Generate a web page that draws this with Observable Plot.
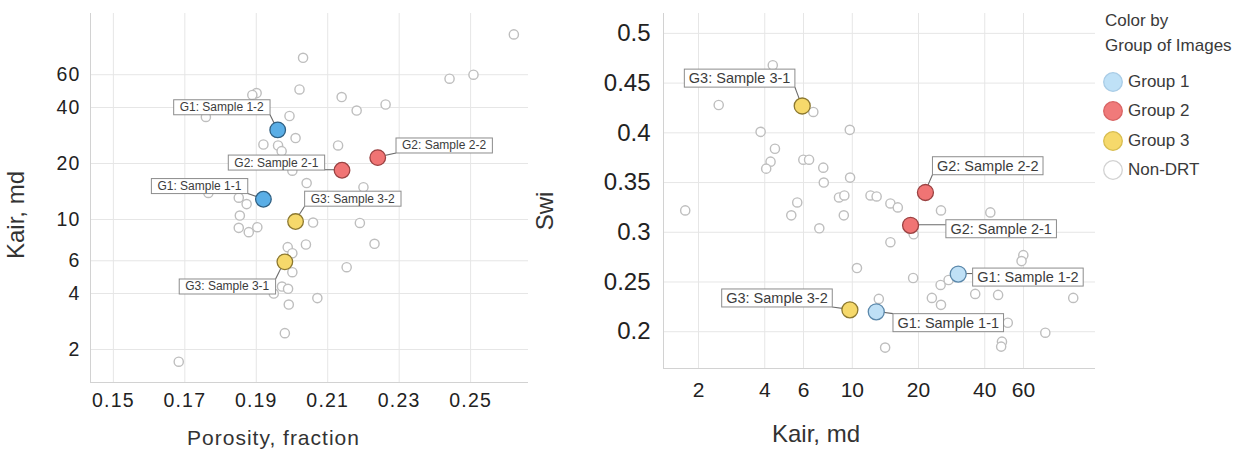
<!DOCTYPE html>
<html>
<head>
<meta charset="utf-8">
<script src="https://cdn.jsdelivr.net/npm/d3@7"></script>
<script src="https://cdn.jsdelivr.net/npm/@observablehq/plot@0.6"></script>
<style>
  html, body { margin: 0; padding: 0; background: #fff; }
  #root { position: relative; width: 1252px; height: 453px; overflow: hidden;
          font-family: "Liberation Sans", Arial, sans-serif; }
  .panel { position: absolute; top: 0; }
  .panel svg { display: block; }
  .title { position: absolute; color: #333; white-space: nowrap; line-height: 1; }
  #left g[aria-description="tick-labels"] text { letter-spacing: 1.2px; }
  .legend { position: absolute; left: 1105px; top: 8px; color: #3a3a3a; font-size: 17px; }
  .legend .head { line-height: 25px; white-space: nowrap; }
  .legend .item { position: absolute; left: 0; white-space: nowrap; height: 22px; line-height: 22px; }
  .legend .item svg { position: absolute; left: -2px; top: 0; }
  .legend .item span { position: absolute; left: 23px; top: 0; }
</style>
</head>
<body>
<div id="root"></div>
<script>
// ---------------- data ----------------
const samples       = ["G1: Sample 1-1", "G1: Sample 1-2", "G2: Sample 2-1", "G2: Sample 2-2", "G3: Sample 3-1", "G3: Sample 3-2"];
const sampleGroup   = ["Group 1", "Group 1", "Group 2", "Group 2", "Group 3", "Group 3"];
const samplePorosity = [0.192, 0.196, 0.214, 0.224, 0.198, 0.201];
const sampleKair    = [12.85, 30.3, 18.4, 21.5, 5.92, 9.75];
const sampleSwi     = [0.220, 0.258, 0.307, 0.340, 0.427, 0.222];

// Non-DRT samples, porosity vs Kair (left chart)
const nonDrtPorosity = [0.2031, 0.1901, 0.1889, 0.2021, 0.2139, 0.2181, 0.2262, 0.1759, 0.1993, 0.2010,
                        0.1920, 0.1961, 0.1971, 0.2129, 0.2001, 0.2041, 0.2200, 0.1766, 0.1851, 0.1873,
                        0.1854, 0.1851, 0.1879, 0.1903, 0.2059, 0.2190, 0.1988, 0.2001, 0.2039, 0.2231,
                        0.2001, 0.2153, 0.1972, 0.1989, 0.1949, 0.2071, 0.1991, 0.1980, 0.1683, 0.2621,
                        0.2441, 0.2508];
const nonDrtKairA    = [74.0, 47.8, 46.7, 50.0, 45.5, 38.5, 41.5, 35.6, 36.0, 27.4,
                        25.3, 25.0, 23.3, 25.0, 18.3, 15.7, 14.9, 13.9, 13.1, 12.1,
                        10.5, 9.02, 8.55, 9.09, 9.63, 9.58, 7.10, 6.59, 7.34, 7.40,
                        5.21, 5.54, 4.36, 4.24, 4.00, 3.78, 3.49, 2.45, 1.72, 98.8,
                        57.1, 60.0];

// Non-DRT samples, Kair vs Swi (right chart)
const nonDrtKairB = [4.35, 2.47, 6.65, 3.83, 9.74, 4.45, 4.25, 4.06, 5.99, 6.36,
                     7.38, 7.42, 9.77, 8.70, 9.20, 12.1, 12.9, 14.9, 16.1, 5.62,
                     5.28, 9.15, 7.08, 14.9, 1.74, 10.5, 13.2, 14.1, 25.3, 42.4,
                     19.0, 18.9, 25.2, 27.4, 59.9, 58.8, 36.2, 46.0, 101, 23.0,
                     25.3, 50.9, 75.4, 47.9, 47.5];
const nonDrtSwi   = [0.468, 0.428, 0.421, 0.401, 0.403, 0.384, 0.371, 0.364, 0.373, 0.373,
                     0.365, 0.350, 0.355, 0.335, 0.337, 0.337, 0.336, 0.329, 0.325, 0.330,
                     0.317, 0.317, 0.304, 0.290, 0.322, 0.264, 0.233, 0.184, 0.322, 0.320,
                     0.298, 0.254, 0.247, 0.252, 0.277, 0.271, 0.238, 0.237, 0.234, 0.234,
                     0.227, 0.209, 0.199, 0.190, 0.185];

// tick labels
const porosityTicks = [0.15, 0.17, 0.19, 0.21, 0.23, 0.25];
const kairTicks     = [2, 4, 6, 10, 20, 40, 60];
const swiTicks      = [0.2, 0.25, 0.3, 0.35, 0.4, 0.45, 0.5];

// legend
const legendTitle  = ["Color by", "Group of Images"];
const legendGroups = ["Group 1", "Group 2", "Group 3", "Non-DRT"];

// ---------------- styles / layout ----------------
const drtGroups = ["Group 1", "Group 2", "Group 3"];
const leftColors = {
  "Group 1": {fill: "#5aaee6", stroke: "#2f5f82"},
  "Group 2": {fill: "#f07474", stroke: "#9a4242"},
  "Group 3": {fill: "#f6d96b", stroke: "#8c7830"}
};
const rightColors = {
  "Group 1": {fill: "#bfe0f6", stroke: "#5a87aa"},
  "Group 2": {fill: "#f07474", stroke: "#9a4242"},
  "Group 3": {fill: "#f6d96b", stroke: "#8c7830"}
};
const legendColors = {
  "Group 1": {fill: "#bfe1f7", stroke: "#a9cce6"},
  "Group 2": {fill: "#f07a7a", stroke: "#d86464"},
  "Group 3": {fill: "#f6d96b", stroke: "#d8bd50"},
  "Non-DRT": {fill: "#ffffff", stroke: "#d2d2d2"}
};
// label offsets (pixels from point to label centre), sample order
const leftLabelOffsets  = [[-64, -13], [-56, -22.5], [-65.7, -7.5], [66.3, -12], [-57.6, 24.8], [57.1, -22.7]];
const rightLabelOffsets = [[72, 11.2], [69.7, 3.4], [90.6, 3.8], [62.3, -26.4], [-62.6, -27.5], [-72.9, -11.5]];

const root = document.getElementById("root");
const NS = "http://www.w3.org/2000/svg";

function buildChart(cfg) {
  const holder = document.createElement("div");
  holder.className = "panel";
  holder.id = cfg.id;
  holder.style.left = cfg.left + "px";
  holder.style.width = cfg.width + "px";
  root.appendChild(holder);

  const gray = cfg.grayX.map((x, i) => ({x, y: cfg.grayY[i]}));
  const pts = samples.map((name, i) => ({name, group: sampleGroup[i], x: cfg.sampleX[i], y: cfg.sampleY[i], i}));

  const plot = Plot.plot({
    width: cfg.width,
    height: 453,
    marginLeft: cfg.margins[0], marginRight: cfg.margins[1], marginTop: cfg.margins[2], marginBottom: cfg.margins[3],
    style: {fontFamily: '"Liberation Sans", Arial, sans-serif', color: "#222", background: "#fff", overflow: "visible"},
    x: {type: cfg.xType, domain: cfg.xDomain, axis: null},
    y: {type: cfg.yType, domain: cfg.yDomain, axis: null},
    marks: [
      Plot.ruleX(cfg.xTicks, {stroke: "#e6e6e6"}),
      Plot.ruleY(cfg.yTicks, {stroke: "#e6e6e6"}),
      Plot.ruleX([cfg.xDomain[0]], {stroke: "#d2d2d2"}),
      Plot.ruleY([cfg.yDomain[0]], {stroke: "#d2d2d2"}),
      // tick labels
      Plot.text(cfg.xTicks, {x: d => d, text: d => String(d), frameAnchor: "bottom", lineAnchor: "top",
        dy: cfg.xPad, fontSize: cfg.xTickSize, fill: "#222", ariaDescription: "tick-labels"}),
      Plot.text(cfg.yTicks, {y: d => d, text: d => String(d), frameAnchor: "left", textAnchor: "end",
        dx: -cfg.yPad, fontSize: cfg.yTickSize, fill: "#222", ariaDescription: "tick-labels"}),
      Plot.dot(gray, {x: "x", y: "y", r: 4.6, fill: "#fff", stroke: "#bebebe", strokeWidth: 1.4}),
      ...pts.map(p => Plot.text([p], {
        x: "x", y: "y", text: "name",
        dx: cfg.offsets[p.i][0], dy: cfg.offsets[p.i][1],
        fontSize: cfg.labelSize, fill: "#3c3c3c", ariaDescription: "sample-label"
      })),
      ...drtGroups.map(g => Plot.dot(pts.filter(p => p.group === g), {
        x: "x", y: "y", r: cfg.dotR, fill: cfg.colors[g].fill, stroke: cfg.colors[g].stroke, strokeWidth: 1.3
      }))
    ]
  });
  holder.appendChild(plot);

  // label boxes and leader lines
  const svgRect = plot.getBoundingClientRect();
  const sx = plot.scale("x"), sy = plot.scale("y");
  const labelGs = Array.from(plot.querySelectorAll('g[aria-description="sample-label"]'));
  if (!labelGs.length) return;
  const parent = labelGs[0].parentNode;
  const lineG = document.createElementNS(NS, "g");
  const boxG = document.createElementNS(NS, "g");
  parent.insertBefore(lineG, labelGs[0]);
  parent.insertBefore(boxG, labelGs[0]);
  labelGs.forEach((g, k) => {
    const t = g.querySelector("text");
    if (!t) return;
    const r = t.getBoundingClientRect();
    const x0 = r.left - svgRect.left - cfg.padX;
    const y0 = r.top - svgRect.top - cfg.padY;
    const w = r.width + 2 * cfg.padX, h = r.height + 2 * cfg.padY;
    const rect = document.createElementNS(NS, "rect");
    rect.setAttribute("x", x0); rect.setAttribute("y", y0);
    rect.setAttribute("width", w); rect.setAttribute("height", h);
    rect.setAttribute("fill", "#fff"); rect.setAttribute("stroke", "#8c8c8c"); rect.setAttribute("stroke-width", 1);
    boxG.appendChild(rect);
    const p = pts[k];
    const cx = sx.apply(p.x), cy = sy.apply(p.y);
    const ax = Math.max(x0, Math.min(cx, x0 + w)), ay = Math.max(y0, Math.min(cy, y0 + h));
    const line = document.createElementNS(NS, "line");
    line.setAttribute("x1", cx); line.setAttribute("y1", cy);
    line.setAttribute("x2", ax); line.setAttribute("y2", ay);
    line.setAttribute("stroke", "#6a6a6a"); line.setAttribute("stroke-width", 1.1);
    lineG.appendChild(line);
  });
}

buildChart({
  id: "left", left: 0, width: 540, margins: [90, 12, 13, 71],
  xType: "linear", xDomain: [0.1436, 0.2662], xTicks: porosityTicks, xPad: 11, xTickSize: 19.5,
  yType: "log", yDomain: [1.33, 128], yTicks: kairTicks, yPad: 10, yTickSize: 19.5,
  grayX: nonDrtPorosity, grayY: nonDrtKairA, sampleX: samplePorosity, sampleY: sampleKair,
  offsets: leftLabelOffsets, colors: leftColors, labelSize: 12, padX: 6, padY: 0.5, dotR: 7.8
});

buildChart({
  id: "right", left: 540, width: 560, margins: [123, 5, 13, 85],
  xType: "log", xDomain: [1.386, 127.5], xTicks: kairTicks, xPad: 14, xTickSize: 21,
  yType: "linear", yDomain: [0.163, 0.52], yTicks: swiTicks, yPad: 13, yTickSize: 24,
  grayX: nonDrtKairB, grayY: nonDrtSwi, sampleX: sampleKair, sampleY: sampleSwi,
  offsets: rightLabelOffsets, colors: rightColors, labelSize: 14.5, padX: 4.5, padY: 1, dotR: 8
});

// axis titles
function addTitle(text, cx, cy, size, rotate, extra) {
  const d = document.createElement("div");
  d.className = "title";
  d.textContent = text;
  d.style.left = cx + "px";
  d.style.top = cy + "px";
  d.style.fontSize = size + "px";
  d.style.transform = "translate(-50%, -50%)" + (rotate ? " rotate(-90deg)" : "");
  if (extra) Object.assign(d.style, extra);
  root.appendChild(d);
}
addTitle("Kair, md", 16, 215, 24, true);
addTitle("Porosity, fraction", 273.5, 437, 21, false, {letterSpacing: "1px"});
addTitle("Swi", 545, 211, 24, true);
addTitle("Kair, md", 816, 434, 24, false);

// legend
const legend = document.createElement("div");
legend.className = "legend";
legendTitle.forEach(t => {
  const h = document.createElement("div");
  h.className = "head";
  h.textContent = t;
  legend.appendChild(h);
});
legendGroups.forEach((g, i) => {
  const it = document.createElement("div");
  it.className = "item";
  it.style.top = (63 + i * 29.3) + "px";
  const c = legendColors[g];
  it.innerHTML = `<svg width="22" height="22"><circle cx="10" cy="11" r="9.3" fill="${c.fill}" stroke="${c.stroke}" stroke-width="1.3"/></svg><span>${g}</span>`;
  legend.appendChild(it);
});
root.appendChild(legend);
</script>
</body>
</html>
